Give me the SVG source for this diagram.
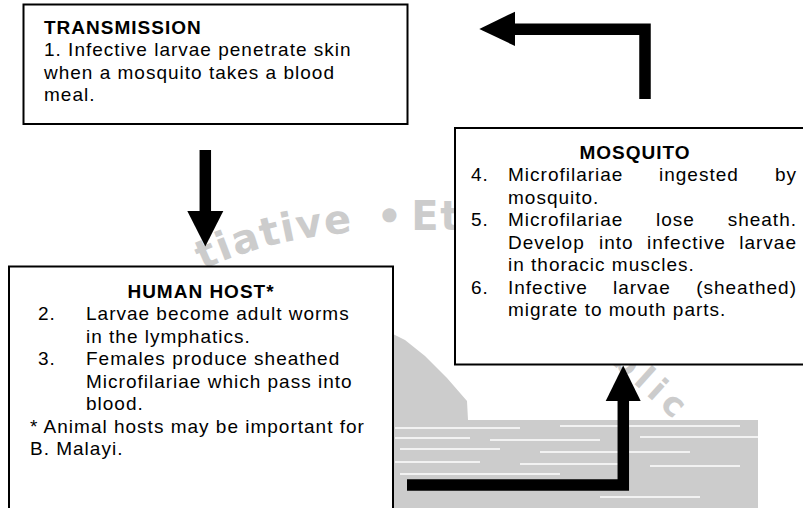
<svg xmlns="http://www.w3.org/2000/svg" width="803" height="508" viewBox="0 0 803 508">
<defs>
<style>
.t{font-family:"Liberation Sans",Arial,sans-serif;font-size:19px;letter-spacing:1px;fill:#000}
.b{font-weight:bold}
.box{fill:#fff;stroke:#000;stroke-width:2}
.wm{font-family:"DejaVu Sans",sans-serif;font-weight:bold;fill:#cccccc}
.gray{fill:#cccccc}
.streak{stroke:#fff;stroke-width:1.6}
.conn{fill:none;stroke:#000;stroke-width:11.5;stroke-linejoin:miter}
.head{fill:#000}
</style>
<path id="wmArc1" d="M 203,270 C 255,245 320,231 400,230 L 480,230"/>
<path id="wmArc2" d="M 610,362 L 716,458"/>
</defs>
<rect width="803" height="508" fill="#fff"/>
<g id="watermark">
<text class="wm" style="font-size:40px;letter-spacing:1.5px;word-spacing:8px"><textPath href="#wmArc1">tiative •<tspan dx="7">Et</tspan></textPath></text>
<text class="wm" style="font-size:34px;letter-spacing:6px"><textPath href="#wmArc2">blic</textPath></text>
<path class="gray" d="M393,334 L405,340 L425,356 L447,378 L467,401 L468,420 L758,420 L758,508 L393,508 Z"/>
<g class="streak">
<line x1="395" y1="428" x2="520" y2="428"/>
<line x1="560" y1="426" x2="740" y2="426"/>
<line x1="395" y1="438" x2="470" y2="438"/>
<line x1="490" y1="440" x2="600" y2="440"/>
<line x1="640" y1="437" x2="758" y2="437"/>
<line x1="400" y1="449" x2="500" y2="449"/>
<line x1="540" y1="452" x2="690" y2="452"/>
<line x1="395" y1="462" x2="480" y2="462"/>
<line x1="520" y1="464" x2="620" y2="464"/>
<line x1="650" y1="466" x2="740" y2="466"/>
<line x1="400" y1="474" x2="560" y2="474"/>
<line x1="600" y1="497" x2="700" y2="497"/>
</g>
</g>
<g id="transmission">
<rect class="box" x="23.5" y="4.5" width="384" height="119.5"/>
<text class="t b" x="44" y="33.5">TRANSMISSION</text>
<text class="t" x="44" y="56">1. Infective larvae penetrate skin</text>
<text class="t" x="44" y="78.5">when a mosquito takes a blood</text>
<text class="t" x="44" y="101">meal.</text>
</g>
<g id="human-host">
<rect class="box" x="9" y="266.5" width="384" height="260"/>
<text class="t b" x="201" y="297.5" text-anchor="middle">HUMAN HOST*</text>
<text class="t" x="38" y="320">2.</text>
<text class="t" x="86" y="320">Larvae become adult worms</text>
<text class="t" x="86" y="342.5">in the lymphatics.</text>
<text class="t" x="38" y="365">3.</text>
<text class="t" x="86" y="365">Females produce sheathed</text>
<text class="t" x="86" y="387.5">Microfilariae which pass into</text>
<text class="t" x="86" y="410">blood.</text>
<text class="t" x="30" y="432.5">* Animal hosts may be important for</text>
<text class="t" x="30" y="455">B. Malayi.</text>
</g>
<g id="mosquito">
<rect class="box" x="455" y="128" width="360" height="236.5"/>
<text class="t b" x="635" y="158.5" text-anchor="middle">MOSQUITO</text>
<text class="t" x="471" y="181">4.</text>
<text class="t" y="181"><tspan x="508">Microfilariae</tspan><tspan x="659">ingested</tspan></text>
<text class="t" x="797" y="181" text-anchor="end">by</text>
<text class="t" x="508" y="203.5">mosquito.</text>
<text class="t" x="471" y="226">5.</text>
<text class="t" y="226"><tspan x="508">Microfilariae</tspan><tspan x="656">lose</tspan></text>
<text class="t" x="797" y="226" text-anchor="end">sheath.</text>
<text class="t" y="248.5"><tspan x="508">Develop</tspan><tspan x="599">into</tspan><tspan x="647">infective</tspan></text>
<text class="t" x="797" y="248.5" text-anchor="end">larvae</text>
<text class="t" x="508" y="271">in thoracic muscles.</text>
<text class="t" x="471" y="293.5">6.</text>
<text class="t" y="293.5"><tspan x="508">Infective</tspan><tspan x="613">larvae</tspan></text>
<text class="t" x="797" y="293.5" text-anchor="end">(sheathed)</text>
<text class="t" x="508" y="316">migrate to mouth parts.</text>
</g>
<g id="connectors">
<path class="conn" d="M205.3,150 V213"/>
<polygon class="head" points="187.3,211 223.3,211 205.3,246.5"/>
<path class="conn" d="M645,99 V29.2 H512"/>
<polygon class="head" points="515,11.7 515,46 479.3,28.9"/>
<path class="conn" d="M407,485 H623.3 V398"/>
<polygon class="head" points="605.7,401 640.7,401 623.2,365.5"/>
</g>
</svg>
